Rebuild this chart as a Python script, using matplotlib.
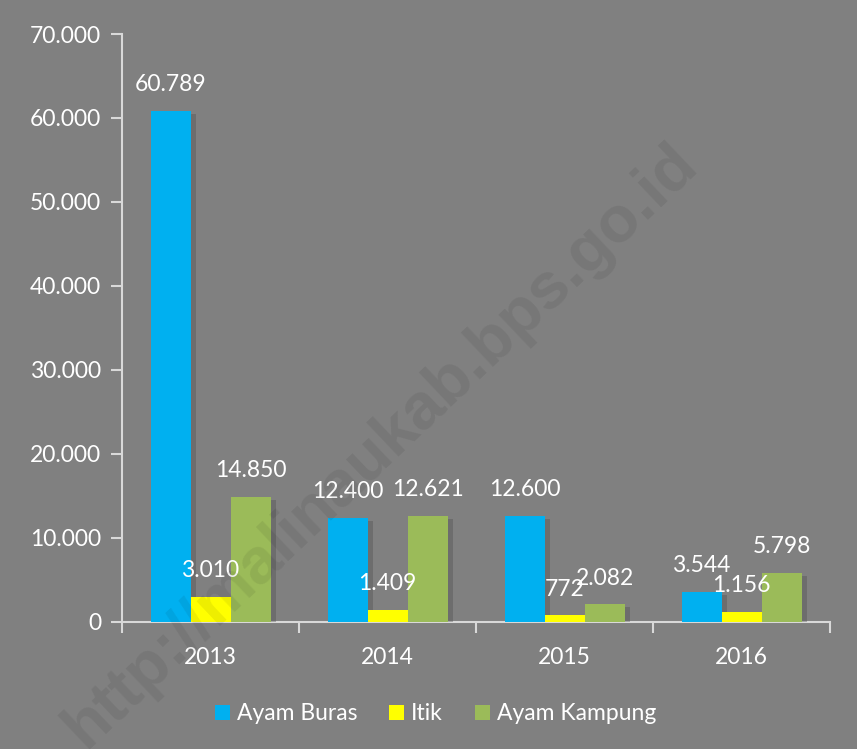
import matplotlib
matplotlib.use("Agg")
import matplotlib.pyplot as plt
import matplotlib.patheffects as pe
import numpy as np

years = ["2013", "2014", "2015", "2016"]
series_names = ["Ayam Buras", "Itik", "Ayam Kampung"]
ayam_buras = [60789, 12400, 12600, 3544]
itik = [3010, 1409, 772, 1156]
ayam_kampung = [14850, 12621, 2082, 5798]
yticks = [0, 10000, 20000, 30000, 40000, 50000, 60000, 70000]
ytick_labels = ["0", "10.000", "20.000", "30.000", "40.000", "50.000", "60.000", "70.000"]
colors = ["#00B0F0", "#FFFF00", "#9BBB59"]

plt.rcParams['font.family'] = ['Lato', 'DejaVu Sans']
BG = "#808080"
AX = "#D9D9D9"
FS = 16.5

fig = plt.figure(figsize=(8.57, 7.49), dpi=100, facecolor=BG)
ax = fig.add_axes([0.1424, 0.1696, 0.8261, 0.7850])
ax.set_facecolor(BG)

x = np.arange(len(years))
w = 0.226
data = [ayam_buras, itik, ayam_kampung]
handles = []
for i, (vals, c, name) in enumerate(zip(data, colors, series_names)):
    bars = ax.bar(x + (i - 1) * w, vals, w, color=c, label=name, zorder=3)
    handles.append(bars)
    for b in bars:
        b.set_path_effects([pe.SimplePatchShadow(offset=(4, -2), shadow_rgbFace="#4a4a4a", alpha=0.35), pe.Normal()])
    for xi, v in zip(x + (i - 1) * w, vals):
        lab = f"{v:,}".replace(",", ".")
        ax.annotate(lab, (xi, v), xytext=(0, 19), textcoords="offset points",
                    ha="center", va="center", color="white", fontsize=FS, zorder=5)

ax.set_xlim(-0.5, 3.5)
ax.set_ylim(0, 70000)
ax.set_yticks(yticks)
ax.set_yticklabels(ytick_labels)
ax.set_xticks(x)
ax.set_xticklabels(years)
ax.set_xticks(np.arange(-0.5, 4.0, 1.0), minor=True)
ax.tick_params(axis="x", which="major", length=0, pad=18, labelsize=FS, labelcolor="white")
ax.tick_params(axis="x", which="minor", length=8, width=1.5, color=AX, direction="out")
ax.tick_params(axis="y", length=8, width=1.5, color=AX, labelsize=FS, labelcolor="white", pad=7)
for s in ["top", "right"]:
    ax.spines[s].set_visible(False)
for s in ["left", "bottom"]:
    ax.spines[s].set_color(AX)
    ax.spines[s].set_linewidth(1.5)

leg = fig.legend(loc="center", bbox_to_anchor=(0.508, 0.047), ncol=3, frameon=False,
                 fontsize=FS, labelcolor="white", handlelength=0.65, handleheight=0.65,
                 handletextpad=0.3, columnspacing=1.4)
for h in leg.legend_handles:
    h.set_path_effects([pe.Normal()])

fig.text(0.445, 0.405, "http://malinaukab.bps.go.id", rotation=43.5, fontsize=47,
         fontweight="bold", color="black", alpha=0.07, ha="center", va="center",
         family="Liberation Sans", zorder=10)

fig.savefig("out.png", dpi=100, facecolor=BG)
